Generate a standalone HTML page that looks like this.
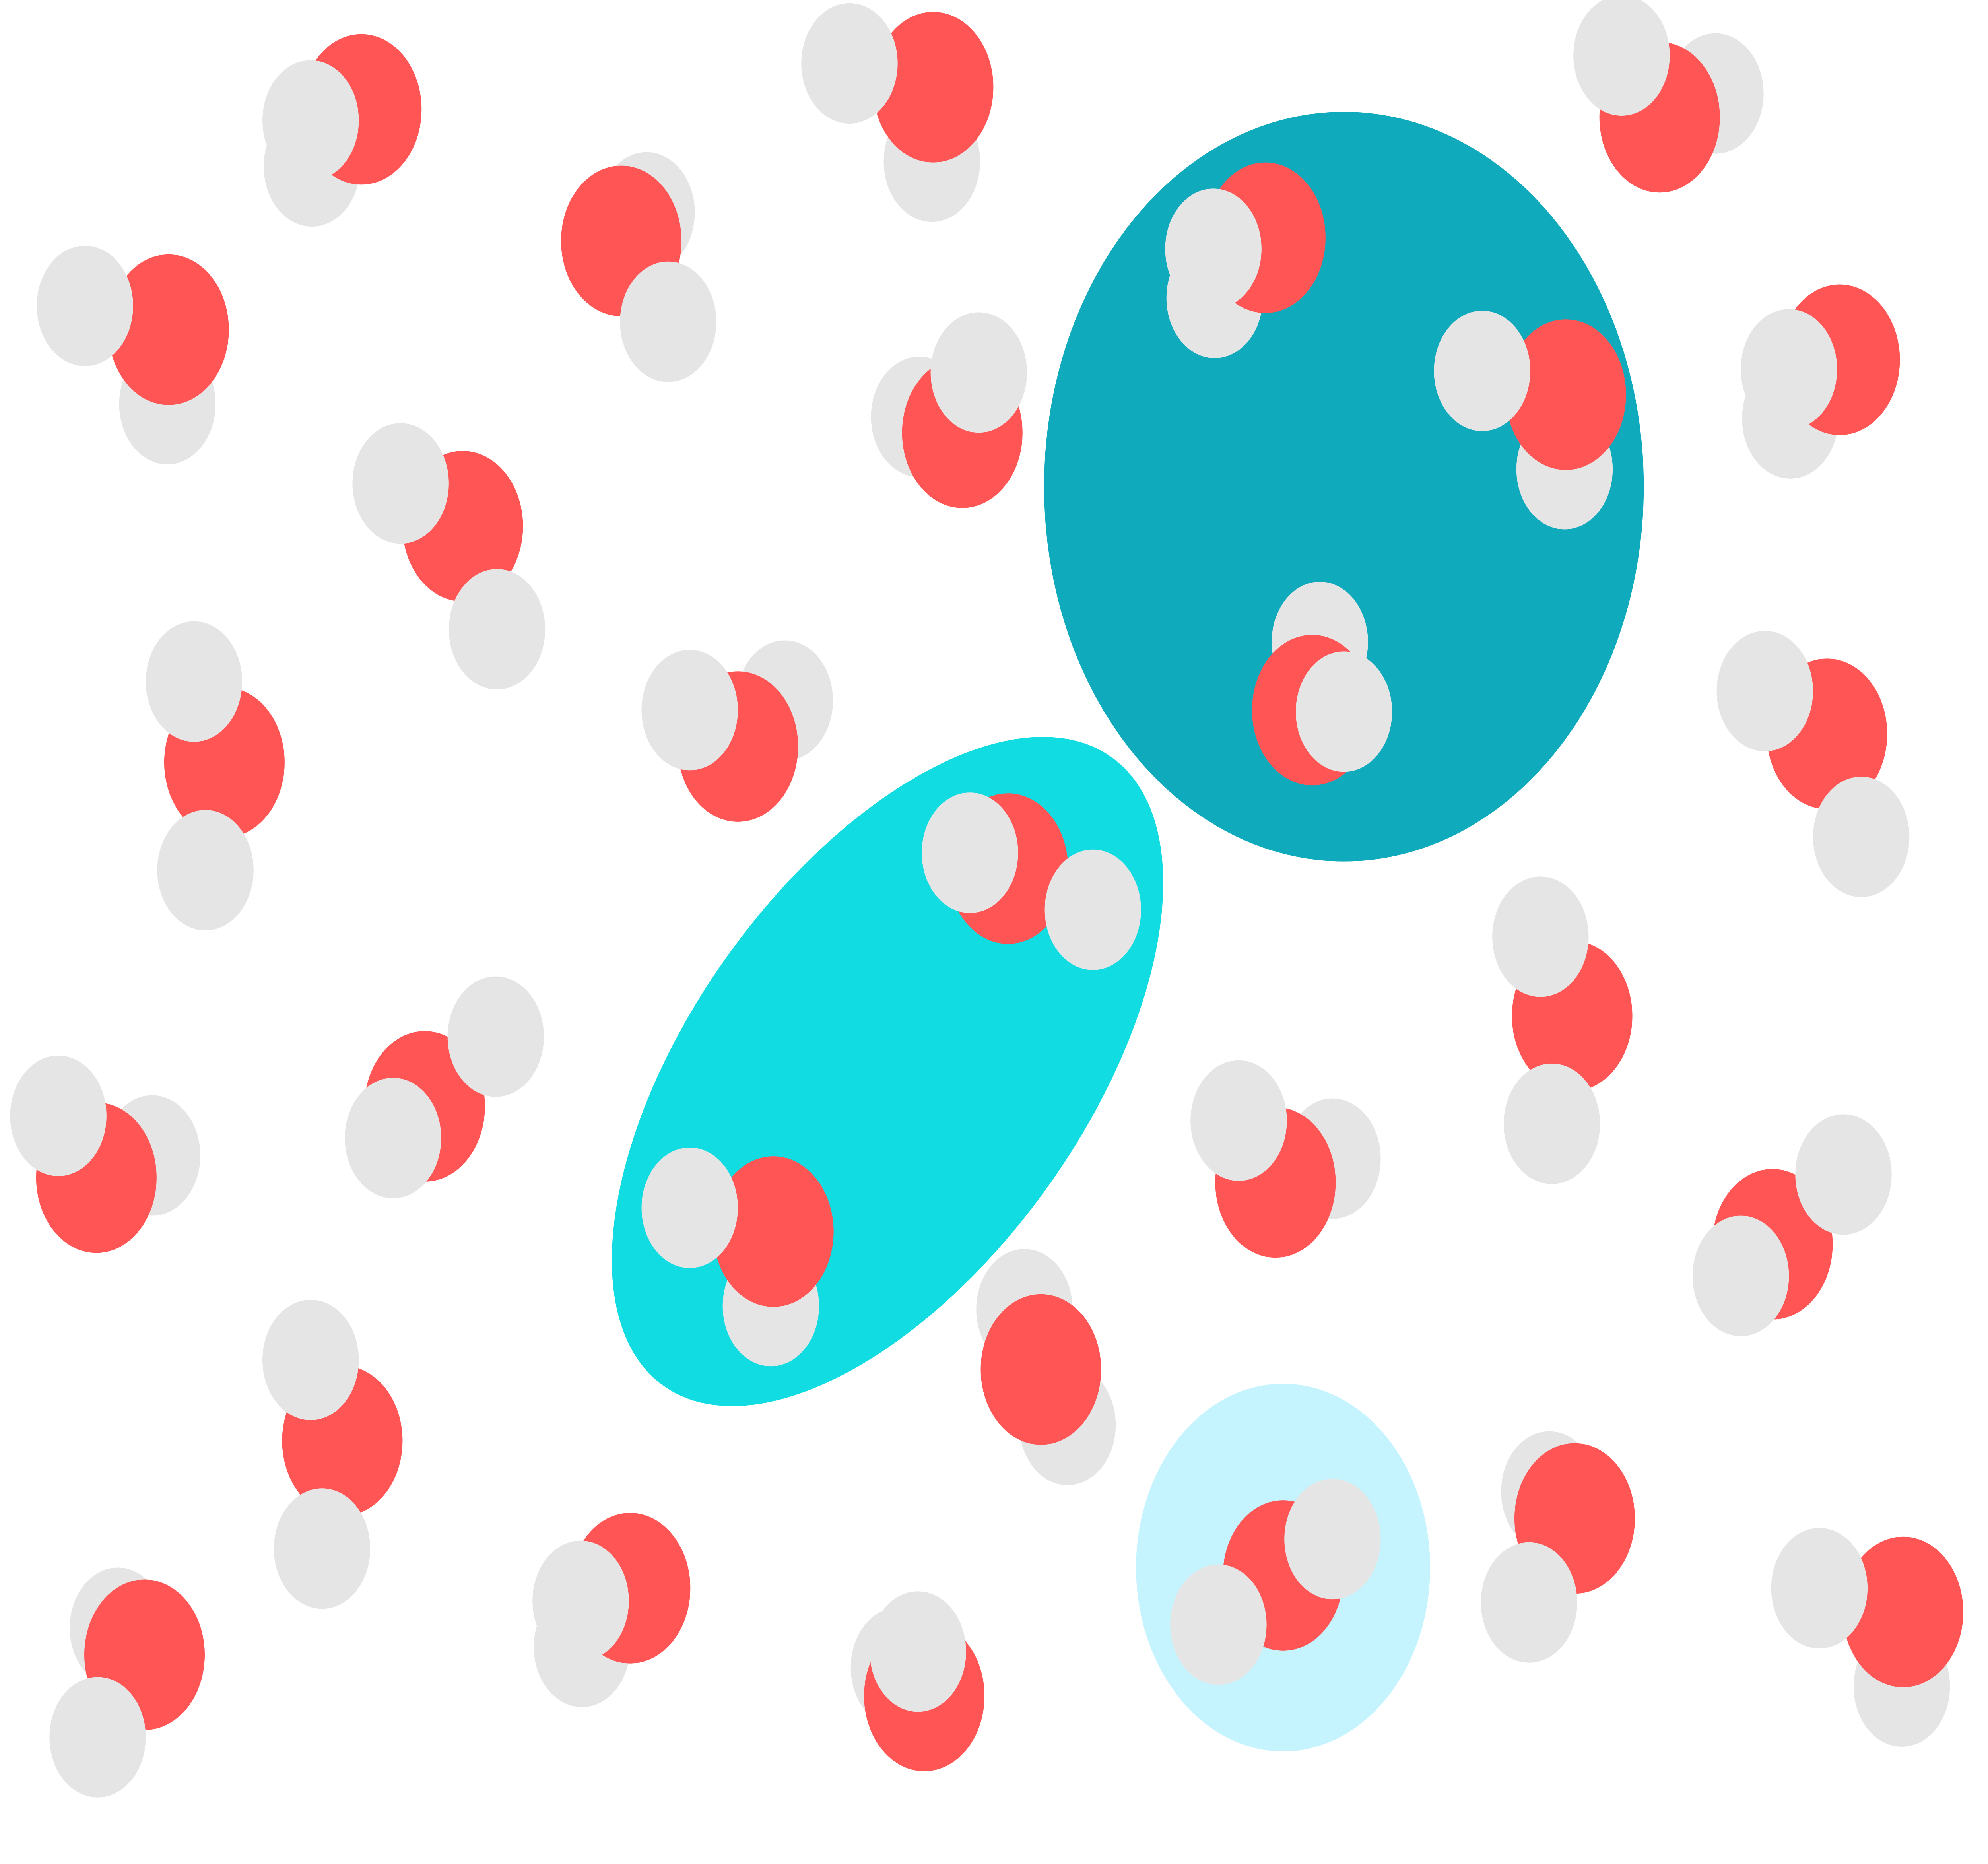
<!DOCTYPE html>
<html lang="en">
<head>
<meta charset="utf-8">
<title>Water molecules diagram</title>
<style>
html,body{margin:0;padding:0;background:#fff;width:100%;height:100%;overflow:hidden}
svg{display:block;width:100vw;height:100vh}
.o{fill:#ff5555}
.h{fill:#e5e5e5}
</style>
</head>
<body>
<svg xmlns="http://www.w3.org/2000/svg" viewBox="0 0 1568 1176" preserveAspectRatio="none">
<rect width="1568" height="1176" fill="#fff"/>
<circle cx="1060" cy="307" r="236.5" fill="#10aabd"/>
<ellipse cx="700" cy="676" rx="268" ry="141.5" transform="rotate(-43.5 700 676)" fill="#10dce2"/>
<circle cx="1012" cy="989" r="116" fill="#c6f4fe"/>

<g><circle class="h" cx="246" cy="105" r="38"/><circle class="o" cx="285" cy="69" r="47.5"/><circle class="h" cx="245" cy="76" r="38"/></g>
<g><circle class="h" cx="510" cy="134" r="38"/><circle class="o" cx="490" cy="152" r="47.5"/><circle class="h" cx="527" cy="203" r="38"/></g>
<g><circle class="h" cx="735" cy="102" r="38"/><circle class="o" cx="736" cy="55" r="47.5"/><circle class="h" cx="670" cy="40" r="38"/></g>
<g><circle class="h" cx="1353" cy="59" r="38"/><circle class="o" cx="1309" cy="74" r="47.5"/><circle class="h" cx="1279" cy="35" r="38"/></g>
<g><circle class="h" cx="132" cy="255" r="38"/><circle class="o" cx="133" cy="208" r="47.5"/><circle class="h" cx="67" cy="193" r="38"/></g>
<g><circle class="h" cx="725" cy="263" r="38"/><circle class="o" cx="759" cy="273" r="47.5"/><circle class="h" cx="772" cy="235" r="38"/></g>
<g><circle class="h" cx="1412" cy="264" r="38"/><circle class="o" cx="1451" cy="227" r="47.5"/><circle class="h" cx="1411" cy="233" r="38"/></g>
<g><circle class="o" cx="365" cy="332" r="47.5"/><circle class="h" cx="316" cy="305" r="38"/><circle class="h" cx="392" cy="397" r="38"/></g>
<g><circle class="o" cx="177" cy="481" r="47.5"/><circle class="h" cx="153" cy="430" r="38"/><circle class="h" cx="162" cy="549" r="38"/></g>
<g><circle class="h" cx="619" cy="442" r="38"/><circle class="o" cx="582" cy="471" r="47.5"/><circle class="h" cx="544" cy="448" r="38"/></g>
<g><circle class="o" cx="1441" cy="463" r="47.5"/><circle class="h" cx="1392" cy="436" r="38"/><circle class="h" cx="1468" cy="528" r="38"/></g>
<g><circle class="o" cx="1240" cy="641" r="47.5"/><circle class="h" cx="1215" cy="591" r="38"/><circle class="h" cx="1224" cy="709" r="38"/></g>
<g><circle class="o" cx="335" cy="698" r="47.5"/><circle class="h" cx="391" cy="654" r="38"/><circle class="h" cx="310" cy="718" r="38"/></g>
<g><circle class="h" cx="120" cy="729" r="38"/><circle class="o" cx="76" cy="743" r="47.5"/><circle class="h" cx="46" cy="704" r="38"/></g>
<g><circle class="h" cx="1051" cy="731" r="38"/><circle class="o" cx="1006" cy="746" r="47.5"/><circle class="h" cx="977" cy="707" r="38"/></g>
<g><circle class="o" cx="1398" cy="785" r="47.5"/><circle class="h" cx="1454" cy="741" r="38"/><circle class="h" cx="1373" cy="805" r="38"/></g>
<g><circle class="h" cx="808" cy="826" r="38"/><circle class="h" cx="842" cy="899" r="38"/><circle class="o" cx="821" cy="864" r="47.5"/></g>
<g><circle class="o" cx="270" cy="909" r="47.5"/><circle class="h" cx="245" cy="858" r="38"/><circle class="h" cx="254" cy="977" r="38"/></g>
<g><circle class="h" cx="459" cy="1039" r="38"/><circle class="o" cx="497" cy="1002" r="47.5"/><circle class="h" cx="458" cy="1010" r="38"/></g>
<g><circle class="h" cx="1222" cy="941" r="38"/><circle class="o" cx="1242" cy="958" r="47.5"/><circle class="h" cx="1206" cy="1011" r="38"/></g>
<g><circle class="h" cx="1500" cy="1064" r="38"/><circle class="o" cx="1501" cy="1017" r="47.5"/><circle class="h" cx="1435" cy="1002" r="38"/></g>
<g><circle class="h" cx="93" cy="1027" r="38"/><circle class="o" cx="114" cy="1044" r="47.5"/><circle class="h" cx="77" cy="1096" r="38"/></g>
<g><circle class="h" cx="709" cy="1052" r="38"/><circle class="o" cx="729" cy="1070" r="47.5"/><circle class="h" cx="724" cy="1042" r="38"/></g>
<g><circle class="h" cx="958" cy="188" r="38"/><circle class="o" cx="998" cy="150" r="47.5"/><circle class="h" cx="957" cy="157" r="38"/></g>
<g><circle class="h" cx="1234" cy="296" r="38"/><circle class="o" cx="1235" cy="249" r="47.5"/><circle class="h" cx="1169" cy="234" r="38"/></g>
<g><circle class="h" cx="1041" cy="405" r="38"/><circle class="o" cx="1035" cy="448" r="47.5"/><circle class="h" cx="1060" cy="449" r="38"/></g>
<g><circle class="o" cx="795" cy="548" r="47.5"/><circle class="h" cx="765" cy="538" r="38"/><circle class="h" cx="862" cy="574" r="38"/></g>
<g><circle class="h" cx="608" cy="824" r="38"/><circle class="o" cx="610" cy="777" r="47.5"/><circle class="h" cx="544" cy="762" r="38"/></g>
<g><circle class="o" cx="1012" cy="994" r="47.5"/><circle class="h" cx="1051" cy="971" r="38"/><circle class="h" cx="961" cy="1025" r="38"/></g>
</svg>
</body>
</html>
